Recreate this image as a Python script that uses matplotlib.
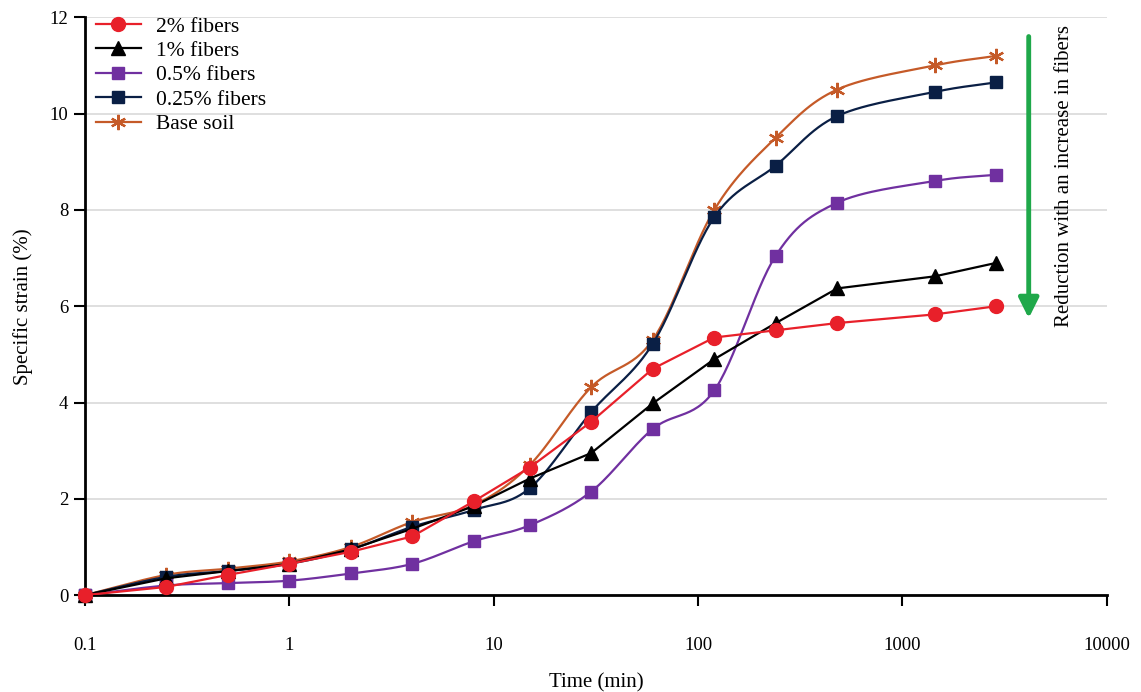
import numpy as np
import matplotlib
matplotlib.use("Agg")
import matplotlib.pyplot as plt

plt.rcParams['font.family'] = ['Liberation Serif', 'DejaVu Serif']

time_min = [0.1, 0.25, 0.5, 1, 2, 4, 8, 15, 30, 60, 120, 240, 480, 1440, 2880]
fiber_2 = [0, 0.17, 0.42, 0.65, 0.9, 1.22, 1.95, 2.65, 3.6, 4.7, 5.35, 5.5, 5.65, 5.83, 6.0]
fiber_1 = [0, 0.35, 0.5, 0.65, 0.95, 1.38, 1.85, 2.42, 2.95, 3.98, 4.9, 5.65, 6.37, 6.62, 6.9]
fiber_05 = [0, 0.2, 0.25, 0.3, 0.45, 0.65, 1.12, 1.45, 2.15, 3.45, 4.25, 7.05, 8.15, 8.6, 8.73]
fiber_025 = [0, 0.38, 0.5, 0.65, 0.95, 1.42, 1.77, 2.22, 3.8, 5.22, 7.85, 8.92, 9.95, 10.45, 10.65]
base_soil = [0, 0.42, 0.55, 0.7, 1.0, 1.52, 1.87, 2.7, 4.32, 5.3, 8.0, 9.5, 10.5, 11.0, 11.2]

labels = ['2% fibers', '1% fibers', '0.5% fibers', '0.25% fibers', 'Base soil']
x_ticks = [0.1, 1, 10, 100, 1000, 10000]
x_tick_labels = ['0.1', '1', '10', '100', '1000', '10000']
y_ticks = [0, 2, 4, 6, 8, 10, 12]


def smooth(x, y, n=30):
    """Catmull-Rom curve through the points in (log x, y) space (drawing only)."""
    lx = np.log10(np.asarray(x, float))
    yy = np.asarray(y, float)
    P = np.column_stack([lx, yy])
    P = np.vstack([P[0] - (P[1] - P[0]), P, P[-1] + (P[-1] - P[-2])])
    out = []
    t = np.linspace(0, 1, n, endpoint=False)[:, None]
    for i in range(1, len(P) - 2):
        p0, p1, p2, p3 = P[i - 1], P[i], P[i + 1], P[i + 2]
        seg = 0.5 * ((2 * p1) + (-p0 + p2) * t + (2 * p0 - 5 * p1 + 4 * p2 - p3) * t ** 2
                     + (-p0 + 3 * p1 - 3 * p2 + p3) * t ** 3)
        out.append(seg)
    out.append(P[-2][None, :])
    out = np.vstack(out)
    return 10 ** out[:, 0], out[:, 1]


fig = plt.figure(figsize=(11.41, 6.92), dpi=100)
ax = fig.add_axes([0.0745, 0.14, 0.8955, 0.835])

series = [
    (fiber_2, '#E8202A', 'o', 10, False),
    (fiber_1, '#000000', '^', 10, False),
    (fiber_05, '#7030A0', 's', 8.5, True),
    (fiber_025, '#0A1F45', 's', 8.5, True),
    (base_soil, '#C55A28', (6, 2, 0), 11, True),
]

handles = [None] * 5
for idx in reversed(range(5)):
    vals, col, mk, ms, sm = series[idx]
    z = 10 - idx
    if sm:
        sx, sy = smooth(time_min, vals)
        ax.plot(sx, sy, color=col, lw=1.6, zorder=z)
    else:
        ax.plot(time_min, vals, color=col, lw=1.6, zorder=z)
    if mk == (6, 2, 0):
        ax.plot(time_min, vals, ls='none', marker=mk, ms=ms, mec=col, mew=1.6,
                zorder=z, clip_on=False)
    else:
        ax.plot(time_min, vals, ls='none', marker=mk, ms=ms, mfc=col, mec=col,
                zorder=z, clip_on=False)
    h, = ax.plot([], [], color=col, lw=1.6, marker=mk, ms=ms, mfc=col, mec=col,
                 mew=1.6 if mk == (6, 2, 0) else 1.0)
    handles[idx] = h

ax.set_xscale('log')
ax.set_xlim(0.1, 10000)
ax.set_ylim(0, 12)
ax.set_xticks(x_ticks)
ax.set_xticklabels(x_tick_labels)
ax.xaxis.set_minor_locator(matplotlib.ticker.NullLocator())
ax.set_yticks(y_ticks)
ax.set_yticklabels([str(v) for v in y_ticks])

ax.grid(axis='y', color='#D9D9D9', lw=1.2, zorder=0)
ax.set_axisbelow(True)
for s in ['top', 'right']:
    ax.spines[s].set_visible(False)
for s in ['left', 'bottom']:
    ax.spines[s].set_linewidth(2.0)
    ax.spines[s].set_color('black')
ax.tick_params(axis='x', direction='out', length=8, width=1.5, pad=22, labelsize=13.5)
ax.tick_params(axis='y', direction='out', length=8, width=1.5, pad=4, labelsize=13.5)

ax.set_xlabel('Time (min)', fontsize=15, labelpad=14)
ax.set_ylabel('Specific strain (%)', fontsize=15, labelpad=12)

leg = ax.legend(handles, labels, loc='upper left', bbox_to_anchor=(0.0, 1.02),
                frameon=False, fontsize=15.5, handlelength=2.1, labelspacing=0.2,
                borderaxespad=0.3, handletextpad=0.7, borderpad=0.2)

# green arrow annotation
ax.annotate('', xy=(4150, 5.75), xytext=(4150, 11.6),
            arrowprops=dict(arrowstyle='-|>', color='#1FA84A', lw=3.5,
                            mutation_scale=30, shrinkA=0, shrinkB=0), zorder=20)
ax.text(6200, 11.85, 'Reduction with an increase in fibers', rotation=90,
        ha='center', va='top', fontsize=15)

fig.savefig('out.png', dpi=100)
